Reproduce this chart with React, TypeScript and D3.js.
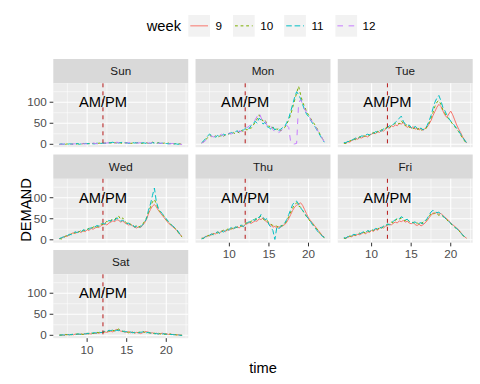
import * as React from 'react';
import * as d3 from 'd3';

// time of day, quarter hours
const TIME = [
  6.5, 6.75,
  7, 7.25, 7.5, 7.75, 8, 8.25, 8.5, 8.75, 9, 9.25, 9.5, 9.75,
  10, 10.25, 10.5, 10.75, 11, 11.25, 11.5, 11.75, 12, 12.25, 12.5, 12.75,
  13, 13.25, 13.5, 13.75, 14, 14.25, 14.5, 14.75, 15, 15.25, 15.5, 15.75,
  16, 16.25, 16.5, 16.75, 17, 17.25, 17.5, 17.75, 18, 18.25, 18.5, 18.75,
  19, 19.25, 19.5, 19.75, 20, 20.25, 20.5, 20.75, 21, 21.25, 21.5, 21.75,
  22,
];

const DAYS = ['Sun', 'Mon', 'Tue', 'Wed', 'Thu', 'Fri', 'Sat'];
const WEEKS = ['9', '10', '11', '12'];
const WEEK_COLORS = ['#F8766D', '#7CAE00', '#00BFC4', '#C77CFF'];
const WEEK_DASH = ['none', '2.8,2.8', '5.6,2.8', '5.6,5.6'];

const X_TICKS = [10, 15, 20];
const X_MINOR = [7.5, 12.5, 17.5, 22.5];
const Y_TICKS = [0, 50, 100];
const Y_MINOR = [25, 75, 125];

// demand per day and week
const SUN_10 = [0, 0, 0, 0, 1, 0, 0, 1, 0, 1, 1, 0, 2, 1, 1, 2, 1, 2, 2, 1, 3, 2, 2, 3, 2, 4, 3, 2, 4, 3, 5, 3, 2, 4, 3, 4, 2, 3, 4, 3, 5, 3, 2, 3, 4, 2, 3, 5, 3, 2, 4, 3, 2, 3, 2, 3, 1, 2, 1, 2, 1, 1, 0];
const SUN_11 = [0, 1, 0, 1, 0, 1, 1, 0, 1, 2, 0, 1, 1, 2, 2, 1, 2, 1, 1, 3, 2, 2, 3, 2, 4, 3, 4, 5, 3, 4, 3, 4, 5, 3, 4, 2, 3, 4, 3, 4, 3, 2, 4, 3, 2, 3, 2, 4, 3, 3, 3, 2, 3, 2, 2, 1, 2, 2, 1, 1, 0, 1, 0];
const SUN_12 = [0, 0, 1, 0, 0, 1, 0, 1, 1, 0, 1, 2, 1, 1, 1, 2, 2, 3, 2, 1, 2, 3, 2, 3, 3, 4, 3, 4, 2, 5, 4, 3, 4, 3, 3, 4, 3, 5, 4, 3, 3, 4, 3, 2, 4, 3, 3, 4, 2, 3, 2, 3, 2, 1, 2, 1, 1, 2, 1, 0, 1, 0, 0];

const MON_10 = [3, 6, 10, 16, 22, 18, 17, 20, 16, 19, 21, 18, 23, 22, 26, 24, 28, 25, 30, 27, 33, 31, 36, 34, 40, 38, 45, 52, 60, 70, 62, 55, 58, 48, 42, 45, 38, 40, 35, 38, 32, 36, 40, 48, 58, 70, 88, 105, 122, 138, 118, 100, 90, 78, 70, 62, 55, 48, 40, 32, 22, 14, 6];
const MON_11 = [4, 8, 14, 20, 24, 21, 19, 17, 21, 18, 20, 24, 22, 26, 25, 28, 26, 30, 32, 29, 35, 33, 38, 42, 37, 45, 48, 55, 50, 62, 58, 48, 52, 42, 40, 36, 42, 34, 38, 33, 36, 40, 42, 52, 62, 78, 95, 112, 125, 118, 108, 95, 82, 72, 66, 58, 50, 44, 36, 28, 20, 12, 5];
const MON_12 = [3, 5, 9, 14, 18, 20, 17, 22, 19, 21, 24, 20, 25, 23, 27, 24, 29, 26, 28, 32, 30, 36, 35, 40, 43, 48, 52, 58, 66, 75, 64, 52, 56, 45, 38, 42, 35, 30, 34, 28, 32, 36, 38, 45, 40, 5, 0, 1, 2, 98, 106, 95, 84, 75, 68, 60, 52, 45, 38, 30, 22, 14, 6];

const TUE_9 = [2, 3, 6, 5, 9, 11, 14, 12, 16, 15, 18, 20, 17, 22, 24, 27, 25, 30, 28, 33, 31, 36, 40, 38, 44, 42, 46, 44, 50, 48, 52, 45, 40, 44, 38, 42, 36, 38, 34, 37, 33, 38, 40, 48, 56, 68, 78, 88, 95, 90, 80, 70, 64, 72, 79, 70, 58, 46, 36, 28, 18, 10, 3];
const TUE_10 = [3, 2, 5, 8, 10, 13, 11, 15, 18, 16, 20, 19, 23, 21, 26, 28, 24, 31, 30, 35, 33, 38, 42, 39, 45, 47, 50, 53, 48, 56, 50, 44, 47, 40, 42, 37, 40, 35, 38, 33, 36, 34, 42, 50, 62, 75, 90, 100, 104, 95, 82, 74, 66, 60, 54, 48, 42, 36, 30, 22, 15, 8, 2];
const TUE_11 = [4, 4, 7, 6, 10, 12, 15, 13, 17, 20, 19, 22, 24, 22, 28, 26, 30, 29, 33, 31, 37, 35, 40, 44, 42, 48, 52, 56, 62, 67, 55, 48, 44, 46, 40, 36, 43, 38, 35, 39, 34, 37, 44, 55, 68, 85, 100, 110, 116, 104, 88, 80, 70, 62, 55, 50, 44, 38, 32, 24, 16, 10, 4];

const WED_9 = [2, 4, 6, 9, 8, 12, 14, 17, 15, 18, 20, 17, 22, 19, 24, 22, 27, 25, 28, 31, 29, 34, 36, 38, 35, 40, 42, 45, 43, 48, 46, 42, 45, 40, 38, 35, 37, 33, 30, 28, 31, 29, 34, 40, 48, 62, 72, 80, 84, 78, 70, 64, 58, 52, 46, 40, 36, 32, 28, 24, 18, 12, 8];
const WED_10 = [3, 2, 5, 8, 11, 10, 15, 13, 18, 16, 19, 23, 20, 25, 24, 28, 26, 30, 32, 29, 35, 38, 36, 40, 44, 42, 46, 50, 48, 55, 56, 48, 52, 44, 40, 42, 36, 34, 31, 34, 30, 33, 36, 44, 52, 65, 78, 90, 96, 85, 72, 66, 60, 55, 48, 42, 38, 33, 29, 25, 18, 11, 7];
const WED_11 = [3, 5, 7, 6, 10, 13, 12, 16, 19, 17, 21, 19, 24, 22, 27, 25, 29, 27, 31, 34, 32, 36, 40, 37, 42, 46, 44, 50, 46, 52, 50, 44, 47, 42, 38, 40, 34, 36, 30, 32, 28, 31, 35, 42, 50, 70, 85, 105, 123, 90, 75, 68, 62, 56, 50, 44, 38, 34, 30, 26, 20, 13, 9];

const THU_9 = [3, 5, 7, 10, 9, 13, 15, 14, 18, 17, 20, 22, 19, 24, 23, 27, 26, 29, 31, 28, 33, 32, 36, 38, 41, 39, 42, 45, 44, 50, 48, 52, 46, 42, 38, 35, 30, 32, 28, 31, 30, 34, 36, 42, 50, 60, 70, 78, 82, 85, 88, 82, 72, 62, 52, 46, 40, 34, 28, 22, 16, 10, 6];
const THU_10 = [4, 3, 6, 9, 12, 11, 14, 17, 16, 20, 19, 23, 21, 25, 27, 25, 30, 28, 30, 34, 32, 36, 38, 41, 40, 44, 46, 50, 48, 54, 56, 50, 45, 47, 40, 37, 34, 35, 32, 30, 34, 33, 38, 45, 55, 66, 76, 84, 88, 80, 78, 70, 62, 55, 48, 44, 38, 32, 27, 20, 14, 9, 5];
const THU_11 = [2, 4, 8, 7, 11, 14, 12, 16, 19, 15, 22, 18, 23, 20, 26, 29, 24, 31, 29, 33, 35, 31, 37, 40, 43, 41, 48, 46, 55, 52, 60, 54, 48, 50, 36, 30, 22, 1, 30, 26, 32, 35, 40, 48, 60, 72, 84, 90, 92, 85, 76, 70, 64, 56, 50, 44, 36, 30, 24, 18, 14, 8, 6];

const FRI_9 = [3, 4, 6, 8, 7, 11, 10, 13, 12, 15, 17, 14, 19, 18, 22, 20, 25, 23, 27, 30, 28, 32, 34, 37, 35, 40, 42, 40, 45, 43, 46, 42, 44, 40, 38, 41, 36, 34, 37, 33, 36, 40, 45, 52, 58, 64, 62, 66, 60, 63, 58, 54, 50, 46, 40, 36, 32, 28, 24, 18, 12, 7, 4];
const FRI_10 = [4, 3, 7, 9, 8, 12, 11, 14, 16, 13, 18, 16, 21, 19, 24, 22, 26, 25, 29, 27, 31, 34, 36, 38, 42, 40, 46, 50, 48, 52, 48, 45, 50, 43, 40, 42, 38, 41, 36, 38, 42, 44, 48, 55, 62, 60, 65, 62, 58, 60, 56, 52, 48, 42, 38, 34, 30, 26, 22, 17, 11, 6, 3];
const FRI_11 = [5, 4, 8, 7, 10, 13, 12, 15, 14, 17, 19, 17, 22, 20, 25, 23, 27, 26, 30, 28, 33, 31, 38, 35, 41, 44, 48, 52, 50, 55, 52, 47, 49, 44, 42, 40, 43, 37, 39, 41, 38, 45, 50, 58, 66, 70, 68, 64, 66, 60, 57, 52, 48, 44, 39, 35, 30, 27, 22, 16, 12, 7, 5];

const SAT_9 = [0, 1, 0, 1, 2, 1, 2, 1, 3, 2, 2, 3, 2, 4, 3, 4, 3, 5, 4, 6, 5, 7, 6, 8, 7, 9, 10, 8, 12, 14, 12, 10, 9, 8, 7, 9, 6, 8, 5, 7, 6, 4, 6, 8, 9, 7, 5, 6, 4, 5, 3, 4, 5, 3, 4, 2, 3, 2, 2, 1, 1, 1, 0];
const SAT_10 = [1, 0, 1, 2, 1, 2, 1, 3, 2, 3, 4, 3, 2, 4, 5, 3, 6, 4, 5, 7, 6, 8, 7, 9, 8, 11, 9, 12, 10, 13, 15, 11, 9, 10, 8, 6, 9, 7, 6, 5, 7, 8, 10, 7, 8, 6, 6, 4, 5, 3, 5, 3, 4, 2, 3, 2, 3, 1, 2, 1, 1, 0, 0];
const SAT_11 = [0, 1, 1, 0, 2, 1, 2, 2, 1, 3, 3, 2, 4, 3, 4, 5, 3, 6, 6, 5, 8, 6, 8, 10, 9, 12, 11, 13, 10, 12, 11, 14, 10, 8, 9, 7, 8, 6, 7, 5, 6, 7, 8, 9, 6, 7, 5, 6, 4, 4, 3, 5, 3, 4, 2, 3, 2, 2, 1, 2, 1, 0, 0];

const SERIES: { day: string; week: string; values: number[] }[] = [
  { day: 'Sun', week: '10', values: SUN_10 },
  { day: 'Sun', week: '11', values: SUN_11 },
  { day: 'Sun', week: '12', values: SUN_12 },
  { day: 'Mon', week: '10', values: MON_10 },
  { day: 'Mon', week: '11', values: MON_11 },
  { day: 'Mon', week: '12', values: MON_12 },
  { day: 'Tue', week: '9', values: TUE_9 },
  { day: 'Tue', week: '10', values: TUE_10 },
  { day: 'Tue', week: '11', values: TUE_11 },
  { day: 'Wed', week: '9', values: WED_9 },
  { day: 'Wed', week: '10', values: WED_10 },
  { day: 'Wed', week: '11', values: WED_11 },
  { day: 'Thu', week: '9', values: THU_9 },
  { day: 'Thu', week: '10', values: THU_10 },
  { day: 'Thu', week: '11', values: THU_11 },
  { day: 'Fri', week: '9', values: FRI_9 },
  { day: 'Fri', week: '10', values: FRI_10 },
  { day: 'Fri', week: '11', values: FRI_11 },
  { day: 'Sat', week: '9', values: SAT_9 },
  { day: 'Sat', week: '10', values: SAT_10 },
  { day: 'Sat', week: '11', values: SAT_11 },
];

const FONT = '"Liberation Sans", Arial, sans-serif';

const W = 480;
const H = 384;
const LEFT = 53.3;
const RIGHT = 472.7;
const GAP = 7.3;
const PANEL_W = (RIGHT - LEFT - 2 * GAP) / 3;
const TOP = 59;
const STRIP_H = 24.3;
const PANEL_H = 63.9;
const ROW_STEP = STRIP_H + PANEL_H + GAP;
const TICK = 3.67;

export default function App() {
  const x = d3.scaleLinear().domain([5.725, 22.775]).range([0, PANEL_W]);
  const y = d3.scaleLinear().domain([-6.9, 145]).range([PANEL_H, 0]);
  const line = d3.line<number>()
    .x((_, i) => x(TIME[i]))
    .y((v) => y(v));

  const panelPos = (i: number) => {
    const col = i % 3;
    const row = Math.floor(i / 3);
    return { col, row, px: LEFT + col * (PANEL_W + GAP), py: TOP + row * ROW_STEP + STRIP_H };
  };

  // legend layout
  const keyW = 21.7;
  const labelW = (s: string) => s.length * 6.5;
  let lx = 188.3;
  const legendItems = WEEKS.map((w, i) => {
    const item = { w, i, x: lx };
    lx += keyW + 5.5 + labelW(w) + 11;
    return item;
  });

  return (
    <svg width={W} height={H} style={{ position: 'absolute', left: 0, top: 0, fontFamily: FONT }}>
      <rect width={W} height={H} fill="white" />

      {/* legend */}
      <text x={146.7} y={31} fontSize={14.7} fill="black">week</text>
      {legendItems.map((it) => (
        <g key={it.w} transform={`translate(${it.x},15)`}>
          <rect width={keyW} height={keyW} fill="#F2F2F2" />
          <line x1={2} x2={keyW - 2} y1={keyW / 2} y2={keyW / 2}
            stroke={WEEK_COLORS[it.i]} strokeWidth={1}
            strokeDasharray={WEEK_DASH[it.i]} />
          <text x={keyW + 5.5} y={keyW / 2 + 4.2} fontSize={11.7} fill="black">{it.w}</text>
        </g>
      ))}

      {DAYS.map((day, i) => {
        const { col, px, py } = panelPos(i);
        const showX = day === 'Sat' || day === 'Thu' || day === 'Fri';
        const showY = col === 0;
        return (
          <g key={day}>
            {/* strip */}
            <rect x={px} y={py - STRIP_H} width={PANEL_W} height={STRIP_H} fill="#D9D9D9" />
            <text x={px + PANEL_W / 2} y={py - STRIP_H / 2 + 4} fontSize={11.7}
              fill="#1A1A1A" textAnchor="middle">{day}</text>

            <g transform={`translate(${px},${py})`}>
              <rect width={PANEL_W} height={PANEL_H} fill="#EBEBEB" />
              {X_MINOR.map((t) => (
                <line key={'xm' + t} x1={x(t)} x2={x(t)} y1={0} y2={PANEL_H} stroke="white" strokeWidth={0.55} />
              ))}
              {Y_MINOR.map((t) => (
                <line key={'ym' + t} x1={0} x2={PANEL_W} y1={y(t)} y2={y(t)} stroke="white" strokeWidth={0.55} />
              ))}
              {X_TICKS.map((t) => (
                <line key={'xg' + t} x1={x(t)} x2={x(t)} y1={0} y2={PANEL_H} stroke="white" strokeWidth={1.1} />
              ))}
              {Y_TICKS.map((t) => (
                <line key={'yg' + t} x1={0} x2={PANEL_W} y1={y(t)} y2={y(t)} stroke="white" strokeWidth={1.1} />
              ))}

              {SERIES.filter((s) => s.day === day).map((s) => {
                const wi = WEEKS.indexOf(s.week);
                return (
                  <path key={s.week} d={line(s.values) || ''} fill="none"
                    stroke={WEEK_COLORS[wi]} strokeWidth={1}
                    strokeDasharray={WEEK_DASH[wi]} />
                );
              })}

              <line x1={x(12)} x2={x(12)} y1={0} y2={PANEL_H} stroke="#B00000"
                strokeWidth={0.9} strokeDasharray="4,4" />
              <text x={x(12)} y={y(100)} dy="0.35em" fontSize={14.7} fill="black"
                textAnchor="middle">AM/PM</text>

              {showY && Y_TICKS.map((t) => (
                <g key={'yt' + t}>
                  <line x1={-TICK} x2={0} y1={y(t)} y2={y(t)} stroke="#333333" strokeWidth={1} />
                  <text x={-TICK - 2.9} y={y(t)} dy="0.35em" fontSize={11.7} fill="#4D4D4D"
                    textAnchor="end">{t}</text>
                </g>
              ))}
              {showX && X_TICKS.map((t) => (
                <g key={'xt' + t}>
                  <line x1={x(t)} x2={x(t)} y1={PANEL_H} y2={PANEL_H + TICK} stroke="#333333" strokeWidth={1} />
                  <text x={x(t)} y={PANEL_H + TICK + 2.9 + 9} fontSize={11.7} fill="#4D4D4D"
                    textAnchor="middle">{t}</text>
                </g>
              ))}
            </g>
          </g>
        );
      })}

      {/* axis titles */}
      <text x={(LEFT + RIGHT) / 2} y={373} fontSize={14.7} fill="black" textAnchor="middle">time</text>
      <text transform={`translate(30.5,210) rotate(-90)`} fontSize={14.7} fill="black"
        textAnchor="middle">DEMAND</text>
    </svg>
  );
}
